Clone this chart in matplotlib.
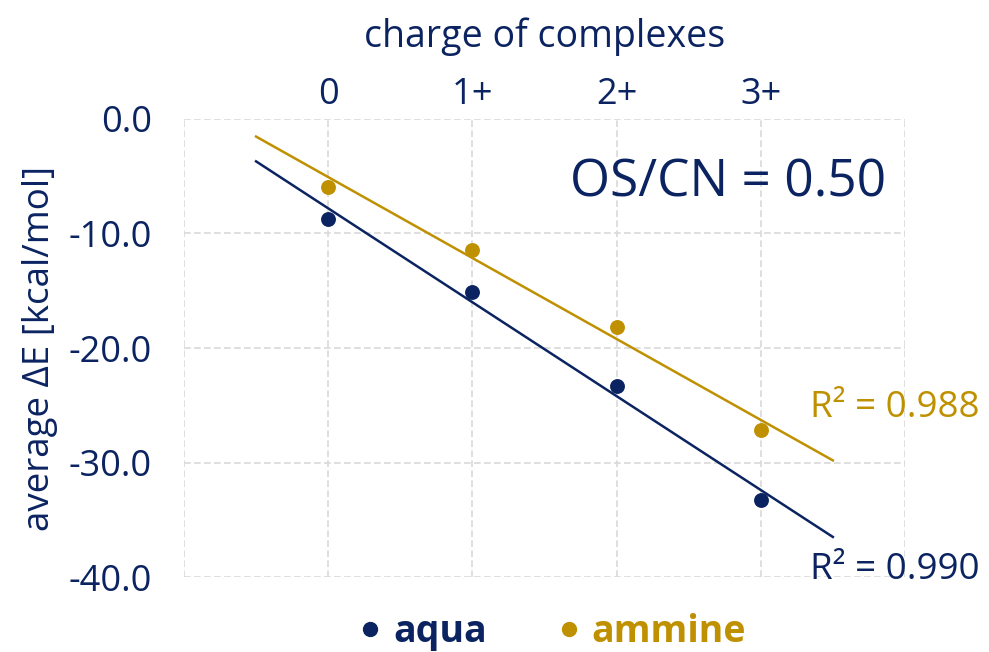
import numpy as np
import matplotlib.pyplot as plt
from matplotlib.lines import Line2D

plt.rcParams['font.family'] = ['Open Sans', 'DejaVu Sans']
plt.rcParams['axes.unicode_minus'] = False

# charge of complexes (x positions) and average interaction energies
charges = [0, 1, 2, 3]
charge_labels = ['0', '1+', '2+', '3+']
aqua = [-8.7, -15.1, -23.3, -33.3]
ammine = [-5.9, -11.4, -18.2, -27.2]
r2_aqua = '0.990'
r2_ammine = '0.988'

NAVY = '#0B2461'
GOLD = '#BF9000'
GRID = '#D9D9D9'

fig = plt.figure(figsize=(9.89, 6.52), dpi=100)
ax = fig.add_axes([0.186, 0.115, 0.729, 0.7025])

# linear trend lines over a slightly wider range than the data
x_fit = np.array([-0.5, 3.5])
for vals, col in [(aqua, NAVY), (ammine, GOLD)]:
    k, b = np.polyfit(charges, vals, 1)
    ax.plot(x_fit, k * x_fit + b, color=col, lw=1.8, zorder=2)
    ax.scatter(charges, vals, s=115, color=col, zorder=3, linewidths=0)

ax.set_xlim(-1, 4)
ax.set_ylim(-40, 0)

ax.xaxis.tick_top()
ax.xaxis.set_label_position('top')
ax.set_xticks(charges)
ax.set_xticklabels(charge_labels)
ax.set_xticks([-1, 4], minor=True)
ax.set_yticks([0, -10, -20, -30, -40])
ax.set_yticklabels([f'{v:.1f}' for v in [0, -10, -20, -30, -40]])
ax.tick_params(axis='both', which='both', length=0, labelsize=26,
               labelcolor=NAVY)
ax.tick_params(axis='y', pad=23)
ax.tick_params(axis='x', pad=4)

ax.grid(True, which='both', color=GRID, linestyle=(0, (4, 2)), lw=1.2, zorder=0)
for s in ax.spines.values():
    s.set_visible(False)

ax.set_xlabel('charge of complexes', fontsize=27, color=NAVY, labelpad=22)
ax.set_ylabel('average ΔE [kcal/mol]', fontsize=26.5, color=NAVY, labelpad=8)

ax.text(3.87, -5.6, 'OS/CN = 0.50', fontsize=37, color=NAVY,
        ha='right', va='center')
ax.text(3.34, -25.2, f'R² = {r2_ammine}', fontsize=26.5, color=GOLD,
        ha='left', va='center', clip_on=False)
ax.text(3.34, -39.4, f'R² = {r2_aqua}', fontsize=26.5, color=NAVY,
        ha='left', va='center', clip_on=False)

handles = [
    Line2D([], [], marker='o', ls='none', color=NAVY, markersize=10, label='aqua'),
    Line2D([], [], marker='o', ls='none', color=GOLD, markersize=10, label='ammine'),
]
leg = fig.legend(handles=handles, loc='center', bbox_to_anchor=(0.555, 0.031),
                 ncol=2, frameon=False, handletextpad=0.1, handlelength=1.0,
                 columnspacing=1.7, prop={'weight': 'bold', 'size': 27})
for txt, col in zip(leg.get_texts(), [NAVY, GOLD]):
    txt.set_color(col)

fig.savefig('out.png', dpi=100)
